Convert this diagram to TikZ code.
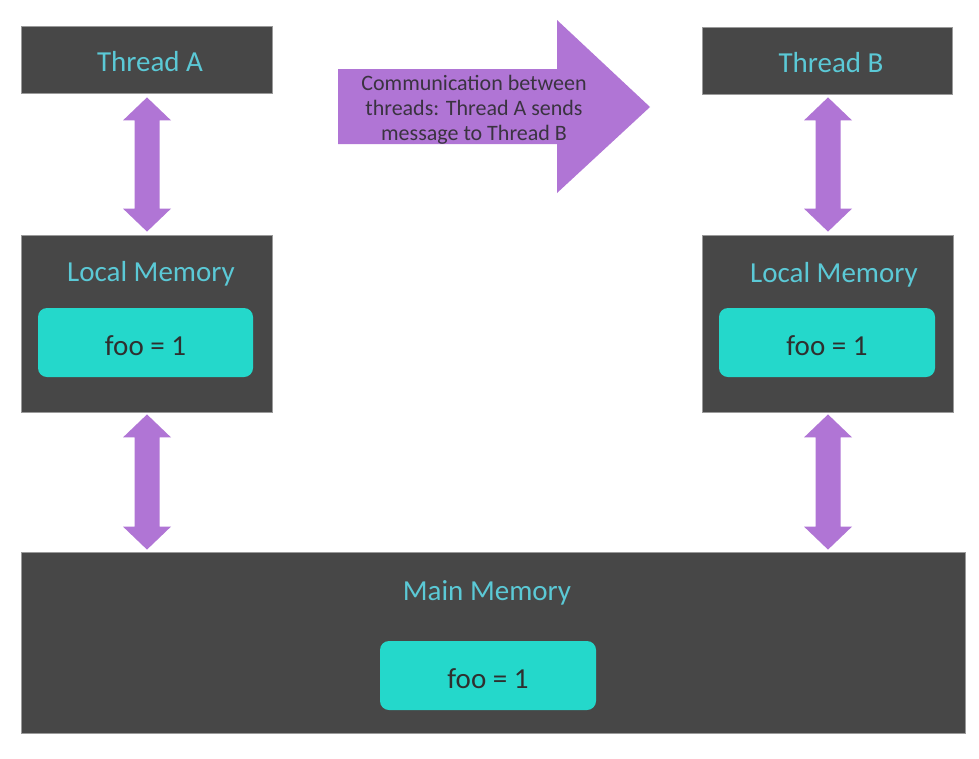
\documentclass[tikz,border=0pt]{standalone}
\usepackage{fontspec}
\setmainfont{Carlito}
\usetikzlibrary{calc}
\definecolor{boxdark}{HTML}{474747}
\definecolor{boxedge}{HTML}{9A9A9A}
\definecolor{titlecyan}{HTML}{5BC9D6}
\definecolor{tealfill}{HTML}{24D8CB}
\definecolor{purplefill}{HTML}{B075D5}
\definecolor{textdark}{HTML}{2F2F2F}
\definecolor{msgtext}{HTML}{3A3340}
\newcommand\vdarrow[2]{%
  \fill[purplefill] let \p1=(#1), \p2=(#2) in
    (\x1,\y1) -- (\x1+24pt,\y1-23pt) -- (\x1+12.5pt,\y1-23pt) -- (\x1+12.5pt,\y2+23pt)
    -- (\x1+24pt,\y2+23pt) -- (\x1,\y2) -- (\x1-24pt,\y2+23pt) -- (\x1-12.5pt,\y2+23pt)
    -- (\x1-12.5pt,\y1-23pt) -- (\x1-24pt,\y1-23pt) -- cycle;}
\tikzset{
  darkbox/.style={draw=boxedge, line width=0.8pt, fill=boxdark, inner sep=0pt},
  title/.style={text=titlecyan, font=\fontsize{29}{34}\selectfont, inner sep=0pt},
  valbox/.style={fill=tealfill, rounded corners=9pt, inner sep=0pt,
    minimum width=215pt, minimum height=69pt, text=textdark,
    text height=26pt, text depth=0pt,
    font=\fontsize{29}{34}\selectfont},
}
\begin{document}
\begin{tikzpicture}[x=1pt,y=-1pt]
\useasboundingbox[fill=white] (0,0) rectangle (979,758);
% Thread boxes
\node[darkbox, minimum width=251pt, minimum height=67pt] (TA) at (146.5,59.5) {};
\node[title] (TAt) at (150,62) {Thread A};
\node[darkbox, minimum width=250pt, minimum height=67pt] (TB) at (827,60.5) {};
\node[title] (TBt) at (831,63) {Thread B};
% Local memories
\node[darkbox, minimum width=251pt, minimum height=177pt] (LA) at (146.5,323.5) {};
\node[title] (LAt) at (151,274) {Local Memory};
\node[valbox] (VA) at (145.5,342.5) {foo = 1};
\node[darkbox, minimum width=251pt, minimum height=177pt] (LB) at (827.5,323.5) {};
\node[title] (LBt) at (834,275) {Local Memory};
\node[valbox, minimum width=216pt] (VB) at (827,342.5) {foo = 1};
% Main memory
\node[darkbox, minimum width=944pt, minimum height=181pt] (M) at (493,642.5) {};
\node[title] (Mt) at (487,593) {Main Memory};
\node[valbox, minimum width=216pt] (VM) at (488,675.5) {foo = 1};
% Double arrows
\vdarrow{$(TA.south)+(0.5,4)$}{$(LA.north)+(0.5,-3)$}
\vdarrow{$(LA.south)+(0.5,2)$}{$(LA.south |- M.north)+(0.5,-2)$}
\vdarrow{$(TB.south)+(1,3)$}{$(LB.north)+(1,-3)$}
\vdarrow{$(LB.south)+(0.5,2)$}{$(LB.south |- M.north)+(0.5,-2)$}
% Message arrow
\fill[purplefill] (338,69) -- (557,69) -- (557,20) -- (650,107) -- (557,193)
  -- (557,144) -- (338,144) -- cycle;
\node[text=msgtext, align=center, inner sep=0pt,
  font=\fontsize{22}{25}\selectfont] (msg) at (474,110)
  {Communication between\\threads: Thread A sends\\message to Thread B};
\end{tikzpicture}
\end{document}
